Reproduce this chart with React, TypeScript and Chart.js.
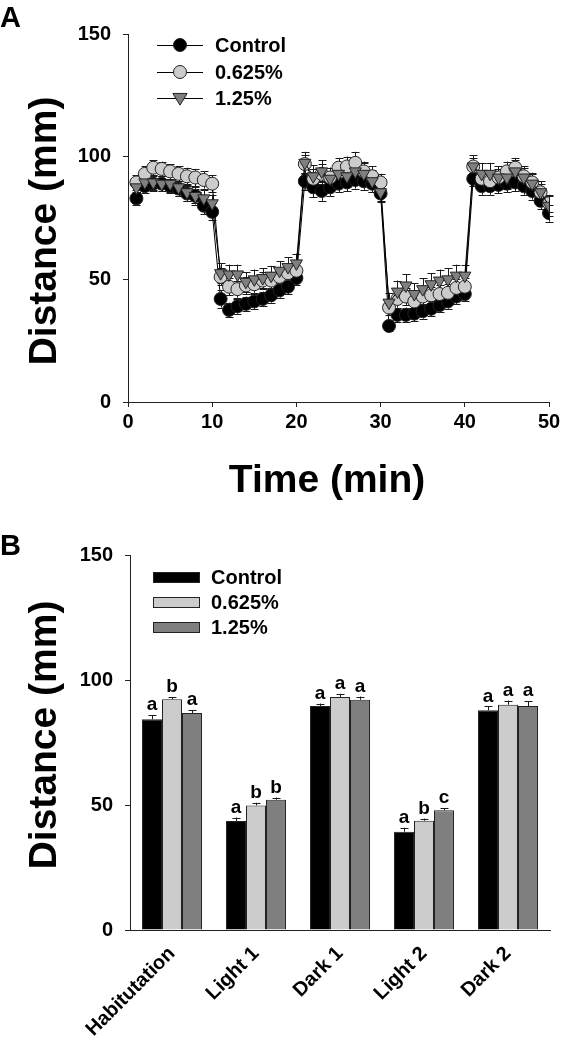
import React, { useEffect, useRef } from "react";
import { Chart, registerables } from "chart.js";
Chart.register(...registerables);

const FONT = "'Liberation Sans', Arial, Helvetica, sans-serif";

// ---------- Panel A data ----------
const minutes = [
  1, 2, 3, 4, 5, 6, 7, 8, 9, 10, 11, 12, 13, 14, 15, 16, 17, 18, 19, 20,
  21, 22, 23, 24, 25, 26, 27, 28, 29, 30, 31, 32, 33, 34, 35, 36, 37, 38, 39, 40,
  41, 42, 43, 44, 45, 46, 47, 48, 49, 50,
];
const controlA = [
  83, 88, 89, 89, 88, 87, 85, 84, 80, 77.5,
  42, 37.5, 39, 40, 41, 42, 43.5, 45.5, 47, 50.5,
  90, 87.5, 86, 87.5, 89, 89.5, 90.5, 90, 89, 85,
  31, 35.5, 35.5, 36, 37, 38, 39.5, 41, 43, 44,
  91, 88, 88, 88.5, 89, 89.5, 88, 86, 82, 77,
];
const lowA = [
  89.5, 93, 95.5, 95, 94, 93, 92, 91.5, 90.5, 89,
  51, 47, 46, 47.5, 48, 49.5, 49.5, 51, 52.5, 53.5,
  97, 91, 93, 91.5, 95.5, 96, 97.5, 94, 92, 89.5,
  38.5, 42, 43, 41, 43, 43.5, 44, 44.5, 46.5, 47,
  96, 91, 90, 91.5, 94, 95.5, 92, 89.5, 85.5, 81,
];
const highA = [
  87.5, 89.5, 89.5, 89, 89, 87.5, 85.5, 84, 83, 81,
  52.5, 52, 52, 49, 50, 50.5, 51.5, 53.5, 55, 56.5,
  97.5, 92, 94, 91, 93, 92, 94, 93, 90, 85.5,
  40.5, 45, 47.5, 44, 46, 48, 49.5, 50, 51.5, 51.5,
  96, 93, 93, 91.5, 91.5, 94, 91.5, 89, 85.5, 80,
];
const controlErrA = [
  2.5, 3, 3, 3, 3, 3, 3, 3, 3.5, 3.5,
  3.5, 3, 3, 3, 3, 3, 3, 3, 3, 3,
  3.5, 4, 4, 3.5, 3.5, 3.5, 3.5, 3.5, 3.5, 3,
  2, 3, 3, 3, 3, 3, 3, 3, 3, 3,
  3, 3.5, 3.5, 3.5, 3.5, 3.5, 3.5, 3.5, 3.5, 3.5,
];
const lowErrA = [
  3, 3, 3, 3, 3, 3, 3.5, 3.5, 3.5, 3.5,
  3.5, 3.5, 3.5, 3.5, 3.5, 3.5, 3.5, 3.5, 3.5, 3.5,
  3.5, 4, 4, 4, 4, 4, 4.5, 4, 4, 3.5,
  3, 3.5, 3.5, 3.5, 3.5, 3.5, 3.5, 3.5, 3.5, 3.5,
  3.5, 3.5, 3.5, 3.5, 4, 4, 3.5, 3.5, 3.5, 3.5,
];
const highErrA = [
  3, 3, 3, 3, 3.5, 3.5, 3.5, 3.5, 3.5, 3.5,
  4, 4, 4, 4, 4, 4, 4, 4, 4, 4,
  4.5, 4.5, 4.5, 4.5, 4.5, 4.5, 4.5, 4.5, 4.5, 4,
  4, 4.5, 4.5, 4.5, 4.5, 4.5, 4.5, 4.5, 4.5, 4.5,
  4.5, 4.5, 4.5, 4.5, 4.5, 4.5, 4.5, 4.5, 4.5, 4,
];
const seriesNames = ["Control", "0.625%", "1.25%"];
const yTicksMax = 150;
const yTickStep = 50;
const xTickStepA = 10;

// ---------- Panel B data ----------
const phases = ["Habitutation", "Light 1", "Dark 1", "Light 2", "Dark 2"];
const controlB = [84.3, 43.6, 89.6, 39.3, 87.9];
const lowB = [92.3, 49.8, 93.2, 43.7, 90.1];
const highB = [86.8, 52.1, 92.1, 47.9, 89.6];
const controlErrB = [1.6, 1.4, 1.0, 1.6, 1.5];
const lowErrB = [0.8, 1.1, 1.3, 0.9, 1.7];
const highErrB = [1.2, 0.9, 1.3, 0.9, 1.9];
const lettersControl = ["a", "a", "a", "a", "a"];
const lettersLow = ["b", "b", "a", "b", "a"];
const lettersHigh = ["a", "b", "a", "c", "a"];

const COLORS = ["#000000", "#cccccc", "#7f7f7f"];
const EDGE = "#222222";

function drawMarker(ctx: CanvasRenderingContext2D, kind: number, x: number, y: number, r: number) {
  ctx.beginPath();
  if (kind === 2) {
    ctx.moveTo(x - r * 1.1, y - r * 0.7);
    ctx.lineTo(x + r * 1.1, y - r * 0.7);
    ctx.lineTo(x, y + r * 1.1);
    ctx.closePath();
  } else {
    ctx.arc(x, y, r, 0, Math.PI * 2);
  }
  ctx.fillStyle = COLORS[kind];
  ctx.fill();
  ctx.lineWidth = 1;
  ctx.strokeStyle = EDGE;
  ctx.stroke();
}

const errorsA = [controlErrA, lowErrA, highErrA];
const valuesA = [controlA, lowA, highA];

const panelAPlugin = {
  id: "panelA",
  beforeDatasetsDraw(chart: any) {
    const { ctx, scales } = chart;
    const x = scales.x;
    const y = scales.y;
    ctx.save();
    ctx.strokeStyle = "#1a1a1a";
    ctx.lineWidth = 1;
    [0, 1, 2].forEach((s) => {
      minutes.forEach((m, i) => {
        const px = Math.round(x.getPixelForValue(m)) + 0.5;
        const v = valuesA[s][i];
        const e = errorsA[s][i];
        const top = y.getPixelForValue(v + e);
        const bot = y.getPixelForValue(v - e);
        ctx.beginPath();
        ctx.moveTo(px, top);
        ctx.lineTo(px, bot);
        ctx.moveTo(px - 4, Math.round(top) + 0.5);
        ctx.lineTo(px + 4, Math.round(top) + 0.5);
        ctx.moveTo(px - 4, Math.round(bot) + 0.5);
        ctx.lineTo(px + 4, Math.round(bot) + 0.5);
        ctx.stroke();
      });
    });
    ctx.restore();
  },
  afterDraw(chart: any) {
    const { ctx } = chart;
    ctx.save();
    ctx.fillStyle = "#000";
    ctx.font = `bold 29px ${FONT}`;
    ctx.textAlign = "left";
    ctx.textBaseline = "top";
    ctx.fillText("A", 0, 4);

    ctx.font = `bold 39px ${FONT}`;
    ctx.textAlign = "center";
    ctx.textBaseline = "middle";
    ctx.fillText("Time (min)", 327, 481);

    ctx.save();
    ctx.translate(45, 231);
    ctx.rotate(-Math.PI / 2);
    ctx.fillText("Distance (mm)", 0, 0);
    ctx.restore();

    // legend
    const rows = [45, 72, 98];
    ctx.font = `bold 20px ${FONT}`;
    ctx.textAlign = "left";
    rows.forEach((ry, i) => {
      ctx.beginPath();
      ctx.strokeStyle = "#000";
      ctx.lineWidth = 1;
      ctx.moveTo(157, ry + 0.5);
      ctx.lineTo(203, ry + 0.5);
      ctx.stroke();
      drawMarker(ctx, i, 180, ry, 6.5);
      ctx.fillStyle = "#000";
      ctx.fillText(seriesNames[i], 215, ry + 1);
    });
    ctx.restore();
  },
};

const errorsB = [controlErrB, lowErrB, highErrB];
const lettersB = [lettersControl, lettersLow, lettersHigh];

const panelBPlugin = {
  id: "panelB",
  afterDatasetsDraw(chart: any) {
    const { ctx, scales } = chart;
    const y = scales.y;
    ctx.save();
    [0, 1, 2].forEach((s) => {
      const meta = chart.getDatasetMeta(s);
      const vals = chart.data.datasets[s].data as number[];
      meta.data.forEach((bar: any, i: number) => {
        const px = Math.round(bar.x) + 0.5;
        const topV = y.getPixelForValue(vals[i] + errorsB[s][i]);
        const barTop = y.getPixelForValue(vals[i]);
        ctx.strokeStyle = "#1a1a1a";
        ctx.lineWidth = 1;
        ctx.beginPath();
        ctx.moveTo(px, barTop);
        ctx.lineTo(px, topV);
        ctx.moveTo(px - 4, Math.round(topV) + 0.5);
        ctx.lineTo(px + 4, Math.round(topV) + 0.5);
        ctx.stroke();
        ctx.fillStyle = "#000";
        ctx.font = `bold 19px ${FONT}`;
        ctx.textAlign = "center";
        ctx.textBaseline = "alphabetic";
        ctx.fillText(lettersB[s][i], bar.x, topV - 5);
      });
    });
    ctx.restore();
  },
  afterDraw(chart: any) {
    const { ctx } = chart;
    ctx.save();
    ctx.fillStyle = "#000";
    ctx.font = `bold 29px ${FONT}`;
    ctx.textAlign = "left";
    ctx.textBaseline = "top";
    ctx.fillText("B", 0, 12);

    ctx.font = `bold 39px ${FONT}`;
    ctx.textAlign = "center";
    ctx.textBaseline = "middle";
    ctx.save();
    ctx.translate(45, 215);
    ctx.rotate(-Math.PI / 2);
    ctx.fillText("Distance (mm)", 0, 0);
    ctx.restore();

    const rows = [57, 82, 107];
    ctx.font = `bold 20px ${FONT}`;
    ctx.textAlign = "left";
    rows.forEach((ry, i) => {
      ctx.fillStyle = COLORS[i];
      ctx.fillRect(153, ry - 5, 47, 11);
      ctx.strokeStyle = EDGE;
      ctx.lineWidth = 1;
      ctx.strokeRect(153.5, ry - 4.5, 46, 10);
      ctx.fillStyle = "#000";
      ctx.textBaseline = "middle";
      ctx.fillText(seriesNames[i], 211, ry + 1);
    });
    ctx.restore();
  },
};

const tickFont = { family: FONT, size: 20, weight: "bold" as const };

export default function App() {
  const refA = useRef<HTMLCanvasElement>(null);
  const refB = useRef<HTMLCanvasElement>(null);

  useEffect(() => {
    const mk = (vals: number[]) => minutes.map((m, i) => ({ x: m, y: vals[i] }));
    const chartA = new Chart(refA.current as HTMLCanvasElement, {
      type: "line",
      data: {
        datasets: [
          {
            label: seriesNames[0],
            data: mk(controlA),
            order: 2,
            borderColor: "#000",
            borderWidth: 1,
            pointStyle: "circle",
            pointRadius: 6.5,
            pointBackgroundColor: COLORS[0],
            pointBorderColor: EDGE,
            pointBorderWidth: 1,
          },
          {
            label: seriesNames[1],
            data: mk(lowA),
            order: 1,
            borderColor: "#000",
            borderWidth: 1,
            pointStyle: "circle",
            pointRadius: 6.5,
            pointBackgroundColor: COLORS[1],
            pointBorderColor: EDGE,
            pointBorderWidth: 1,
          },
          {
            label: seriesNames[2],
            data: mk(highA),
            order: 0,
            borderColor: "#000",
            borderWidth: 1,
            pointStyle: "triangle",
            pointRotation: 180,
            pointRadius: 7,
            pointBackgroundColor: COLORS[2],
            pointBorderColor: EDGE,
            pointBorderWidth: 1,
          },
        ],
      },
      options: {
        animation: false,
        responsive: false,
        devicePixelRatio: 1,
        layout: { padding: { top: 34, right: 12, left: 0, bottom: 0 } },
        plugins: { legend: { display: false }, tooltip: { enabled: false } },
        scales: {
          x: {
            type: "linear",
            min: 0,
            max: 50,
            ticks: { stepSize: xTickStepA, color: "#000", font: tickFont, padding: 3 },
            grid: { drawOnChartArea: false, tickLength: 5, color: "#222" },
            border: { color: "#222", width: 1 },
            afterFit(s: any) {
              s.height = 118;
              s.paddingLeft = 0;
              s.paddingRight = 0;
            },
          },
          y: {
            min: 0,
            max: yTicksMax,
            ticks: { stepSize: yTickStep, color: "#000", font: tickFont, padding: 12 },
            grid: { drawOnChartArea: false, tickLength: 5, color: "#222" },
            border: { color: "#222", width: 1 },
            afterFit(s: any) {
              s.width = 128;
              s.paddingTop = 0;
              s.paddingBottom = 0;
            },
          },
        },
      },
      plugins: [panelAPlugin],
    } as any);

    const chartB = new Chart(refB.current as HTMLCanvasElement, {
      type: "bar",
      data: {
        labels: phases,
        datasets: [
          { label: seriesNames[0], data: controlB, backgroundColor: COLORS[0], borderColor: EDGE, borderWidth: 1 },
          { label: seriesNames[1], data: lowB, backgroundColor: COLORS[1], borderColor: EDGE, borderWidth: 1 },
          { label: seriesNames[2], data: highB, backgroundColor: COLORS[2], borderColor: EDGE, borderWidth: 1 },
        ],
      },
      options: {
        animation: false,
        responsive: false,
        devicePixelRatio: 1,
        datasets: { bar: { categoryPercentage: 0.714, barPercentage: 1 } },
        layout: { padding: { top: 35, right: 11, left: 0, bottom: 0 } },
        plugins: { legend: { display: false }, tooltip: { enabled: false } },
        scales: {
          x: {
            ticks: { color: "#000", font: tickFont, minRotation: 45, maxRotation: 45, padding: 4 },
            grid: { display: false },
            border: { display: true, color: "#222", width: 1 },
            afterFit(s: any) {
              s.height = 120;
              s.paddingLeft = 0;
              s.paddingRight = 0;
            },
          },
          y: {
            min: 0,
            max: yTicksMax,
            ticks: { stepSize: yTickStep, color: "#000", font: tickFont, padding: 12 },
            grid: { drawOnChartArea: false, tickLength: 5, color: "#222" },
            border: { color: "#222", width: 1 },
            afterFit(s: any) {
              s.width = 130;
              s.paddingTop = 0;
              s.paddingBottom = 0;
            },
          },
        },
      },
      plugins: [panelBPlugin],
    } as any);

    return () => {
      chartA.destroy();
      chartB.destroy();
    };
  }, []);

  return (
    <div style={{ position: "absolute", left: 0, top: 0, width: 561, height: 1050, background: "#fff" }}>
      <canvas ref={refA} width={561} height={520} style={{ position: "absolute", left: 0, top: 0 }} />
      <canvas ref={refB} width={561} height={530} style={{ position: "absolute", left: 0, top: 520 }} />
    </div>
  );
}
